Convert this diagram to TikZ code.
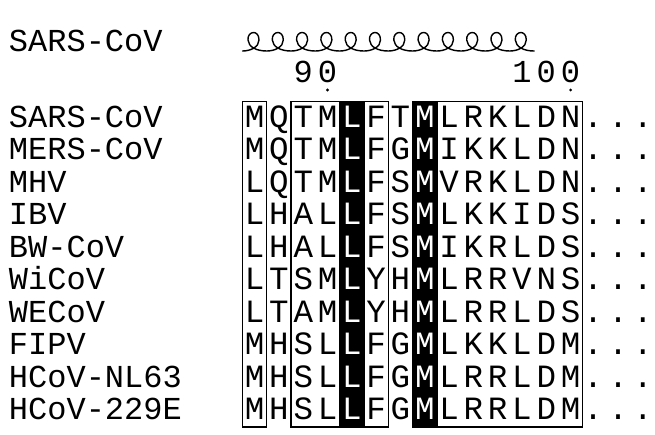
\documentclass[tikz,border=0pt]{standalone}
\usepackage{fontspec}
\newfontfamily\seqfont{Liberation Mono}
\begin{document}
\begin{tikzpicture}[x=1pt,y=-1pt,
  every node/.style={inner sep=0pt,outer sep=0pt},
  lbl/.style={anchor=base west,font=\seqfont\fontsize{32}{36}\selectfont},
  res/.style={anchor=base,font=\seqfont\fontsize{32.5}{36}\selectfont},
  inv/.style={res,text=white},
  num/.style={anchor=base,font=\seqfont\fontsize{32}{36}\selectfont},
  framebox/.style={draw=black,line width=1.3pt},
  blackcol/.style={fill=black,draw=black,line width=1.3pt},
  helixline/.style={draw=black,line width=1.4pt,line cap=round,line join=round},
  tick/.style={fill=black,draw=none}]
\useasboundingbox (0,0) rectangle (655,434);
% secondary structure title
\node[lbl] (sstitle) at (9,51.7) {SARS-CoV};
% helix
\draw[helixline] (242.5,51)
  \foreach \i in {0,...,11}{
   .. controls ({242.5+\i*24.3+8},51) and ({242.5+\i*24.3+16.5},47) .. ({242.5+\i*24.3+16.5},40)
   .. controls ({242.5+\i*24.3+16.5},34.5) and ({242.5+\i*24.3+13.5},32.5) .. ({242.5+\i*24.3+11},32.5)
   .. controls ({242.5+\i*24.3+8},32.5) and ({242.5+\i*24.3+5},35.5) .. ({242.5+\i*24.3+5.5},40)
   .. controls ({242.5+\i*24.3+6},47) and ({242.5+\i*24.3+14},51) .. ({242.5+(\i+1)*24.3},51)
  };
% numbering
\node[num] (n90) at (315.4,82.7) {9\kern5.1pt 0};
\node[num] (n100) at (546.3,82.7) {1\kern5.1pt 0\kern5.1pt 0};
\fill[tick] (327.55,90) circle (1.6);
\fill[tick] (570.6,90) circle (1.6);
% black columns
\path[blackcol] (339.7,101.7) rectangle (364.0,427);
\path[blackcol] (412.6,101.7) rectangle (436.9,427);
% frames
\path[framebox] (242.5,101.7) rectangle (266.8,427);
\path[framebox] (291.1,101.7) rectangle (388.3,427);
\path[framebox] (412.6,101.7) rectangle (582.7,427);
% sequences
\foreach \nm/\sq [count=\r] in {
  SARS-CoV/{M,Q,T,M,L,F,T,M,L,R,K,L,D,N},
  MERS-CoV/{M,Q,T,M,L,F,G,M,I,K,K,L,D,N},
  MHV/{L,Q,T,M,L,F,S,M,V,R,K,L,D,N},
  IBV/{L,H,A,L,L,F,S,M,L,K,K,I,D,S},
  BW-CoV/{L,H,A,L,L,F,S,M,I,K,R,L,D,S},
  WiCoV/{L,T,S,M,L,Y,H,M,L,R,R,V,N,S},
  WECoV/{L,T,A,M,L,Y,H,M,L,R,R,L,D,S},
  FIPV/{M,H,S,L,L,F,G,M,L,K,K,L,D,M},
  HCoV-NL63/{M,H,S,L,L,F,G,M,L,R,R,L,D,M},
  HCoV-229E/{M,H,S,L,L,F,G,M,L,R,R,L,D,M}}{
  \pgfmathsetmacro\yb{127.3+(\r-1)*32.5}
  \node[lbl] (name\r) at (9,\yb) {\nm};
  \foreach \c [count=\k] in \sq {
    \ifnum\k=5 \def\st{inv}\else\ifnum\k=8 \def\st{inv}\else\def\st{res}\fi\fi
    \node[\st] (r\r-\k) at ({242.5+(\k-0.5)*24.3},\yb) {\c};
  }
  \node[res] (dots\r) at (618,\yb) {.\kern5.3pt.\kern5.3pt.};
}
\end{tikzpicture}
\end{document}
